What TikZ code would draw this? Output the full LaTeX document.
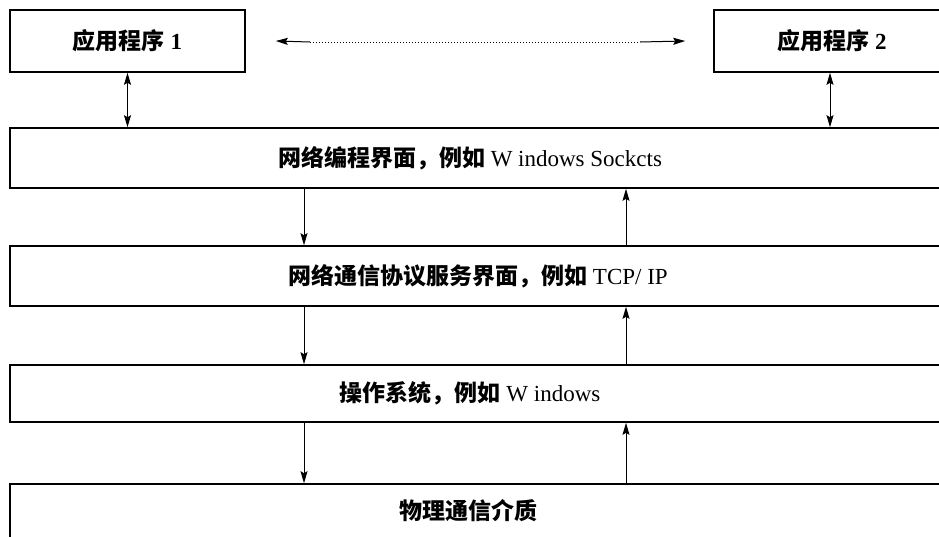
\documentclass[tikz,border=0pt]{standalone}
\usepackage{fontspec}
\setmainfont{Liberation Serif}
\newfontfamily\cjk{Noto Sans CJK SC}
\usetikzlibrary{arrows.meta}
\begin{document}
\begin{tikzpicture}[x=1pt,y=-1pt,
  box/.style={draw, line width=1.6pt, rectangle, inner sep=0pt},
  txt/.style={font=\fontsize{23}{26}\selectfont},
  conn/.style={line width=1pt},
  tip/.style={-{Stealth[length=12pt,width=7pt,inset=2pt]}},
  tipb/.style={{Stealth[length=12pt,width=7pt,inset=2pt]}-{Stealth[length=12pt,width=7pt,inset=2pt]}}]
\useasboundingbox (0,0) rectangle (939,536);
\clip (0,0) rectangle (939,536);
\fill[white] (0,0) rectangle (939,536);
% application boxes
\node[box, txt, minimum width=235pt, minimum height=62pt] (app1) at (127.5,41) {{\cjk\bfseries 应用程序} \textbf{1}};
\node[box, txt, minimum width=236pt, minimum height=62pt] (app2) at (832,41) {{\cjk\bfseries 应用程序} \textbf{2}};
% layers
\node[box, minimum width=940pt, minimum height=60pt, label={[txt, xshift=-10pt]center:{\cjk\bfseries 网络编程界面，例如} W indows Sockcts}] (l1) at (480,158) {};
\node[box, minimum width=940pt, minimum height=60pt, label={[txt, xshift=-2pt]center:{\cjk\bfseries 网络通信协议服务界面，例如} TCP/ IP}] (l2) at (480,276) {};
\node[box, minimum width=940pt, minimum height=57pt, label={[txt, xshift=-10pt]center:{\cjk\bfseries 操作系统，例如} W indows}] (l3) at (480,393.5) {};
\node[box, minimum width=940pt, minimum height=76pt] (l4) at (480,522) {};
\node[txt] (l4t) at (468,511) {{\cjk\bfseries 物理通信介质}};
% coordinates for vertical arrows
\coordinate (dn) at (304,0);
\coordinate (up) at (626,0);
\coordinate (pa) at (310,42);
\coordinate (pb) at (640,42);
% dotted peer link
\draw[conn, dotted, line width=1pt] (pa) -- (pb);
\draw[conn, {Stealth[length=12pt,width=7pt,inset=2pt]}-] ([xshift=30pt]app1.east) -- (pa);
\draw[conn, tip] (pb) -- ([xshift=-28pt]app2.west);
% app to layer 1
\draw[conn, tipb] (app1.south) -- (app1.south |- l1.north);
\draw[conn, tipb] ([xshift=-2pt]app2.south) -- ([xshift=-2pt]app2.south |- l1.north);
% layer arrows
\draw[conn, tip] (l1.south -| dn) -- (l2.north -| dn);
\draw[conn, tip] (l2.north -| up) -- (l1.south -| up);
\draw[conn, tip] (l2.south -| dn) -- (l3.north -| dn);
\draw[conn, tip] (l3.north -| up) -- (l2.south -| up);
\draw[conn, tip] (l3.south -| dn) -- (l4.north -| dn);
\draw[conn, tip] (l4.north -| up) -- (l3.south -| up);
\end{tikzpicture}
\end{document}
